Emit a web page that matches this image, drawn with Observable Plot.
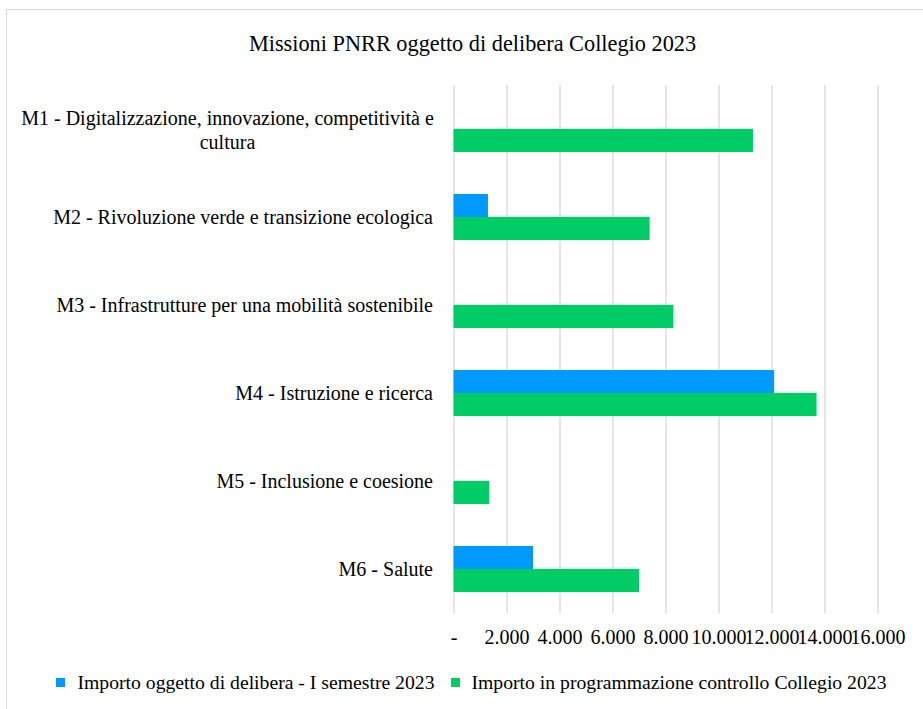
<!DOCTYPE html>
<html>
<head>
<meta charset="utf-8">
<script src="https://cdn.jsdelivr.net/npm/d3@7"></script>
<script src="https://cdn.jsdelivr.net/npm/@observablehq/plot@0.6"></script>
<style>
  html, body { margin: 0; padding: 0; background: #fff; }
  body { position: relative; width: 923px; height: 709px; overflow: hidden; font-family: "Liberation Serif", "Times New Roman", serif; color: #000; }
  #frame { position: absolute; left: 6px; top: 9px; width: 940px; height: 720px; border: 1.5px solid #d9d9d9; box-sizing: border-box; }
  #title { position: absolute; left: 7px; width: 931px; top: 30px; height: 28px; line-height: 28px; text-align: center; font-size: 22.3px; }
  #chart { position: absolute; left: 0; top: 0; }
  #legend { position: absolute; left: 7px; width: 929px; top: 670px; height: 24px; display: flex; justify-content: center; align-items: center; font-size: 19.7px; white-space: nowrap; }
  .sw { display: inline-block; width: 9px; height: 9px; margin-right: 12px; }
  .item { display: inline-flex; align-items: center; margin: 0 8px; }
</style>
</head>
<body>
<div id="frame"></div>
<div id="title"></div>
<div id="chart"></div>
<div id="legend"></div>
<script>
const titleText = "Missioni PNRR oggetto di delibera Collegio 2023";
const categories = [
  "M1 - Digitalizzazione, innovazione, competitività e\ncultura",
  "M2 - Rivoluzione verde e transizione ecologica",
  "M3 - Infrastrutture per una mobilità sostenibile",
  "M4 - Istruzione e ricerca",
  "M5 - Inclusione e coesione",
  "M6 - Salute"
];
const seriesNames = [
  "Importo oggetto di delibera - I semestre 2023",
  "Importo in programmazione controllo Collegio 2023"
];
const seriesColors = ["#0099ff", "#00cc66"];
const deliberaValues = [0, 1300, 0, 12100, 0, 3000];
const programmazioneValues = [11300, 7400, 8300, 13700, 1350, 7000];
const xTicks = [0, 2000, 4000, 6000, 8000, 10000, 12000, 14000, 16000];

document.getElementById("title").textContent = titleText;

const deliberaData = categories.map((c, i) => ({cat: c, value: deliberaValues[i]}));
const progData = categories.map((c, i) => ({cat: c, value: programmazioneValues[i]}));

const it = d3.formatLocale({decimal: ",", thousands: ".", grouping: [3], currency: ["€", ""]});
const fmt = it.format(",");

const W = 923, H = 650, mTop = 85, mBottom = 37, mLeft = 453.5, mRight = 45.5;
const padInner = 0.48, padOuter = 0.24;
const step = (H - mTop - mBottom) / (categories.length - padInner + 2 * padOuter);
const bw = step * (1 - padInner);

const multi = categories.filter(c => c.includes("\n"));

const chart = Plot.plot({
  width: W,
  height: H,
  marginTop: mTop,
  marginBottom: mBottom,
  marginLeft: mLeft,
  marginRight: mRight,
  style: {fontFamily: "'Liberation Serif', 'Times New Roman', serif", fontSize: "20px", color: "#000", background: "transparent"},
  x: {domain: [0, 16000], ticks: xTicks, tickFormat: d => d === 0 ? "-" : fmt(d), label: null},
  y: {domain: categories, type: "band", paddingInner: padInner, paddingOuter: padOuter, label: null},
  marks: [
    Plot.gridX(xTicks, {stroke: "#d9d9d9", strokeOpacity: 1, strokeWidth: 1.3}),
    Plot.axisX({ticks: xTicks, tickSize: 0, tickPadding: 16, tickFormat: d => d === 0 ? "-" : fmt(d), label: null, fill: "#000"}),
    Plot.axisY({tickSize: 0, tickPadding: 21, label: null, tickFormat: d => d.includes("\n") ? "" : d, fill: "#000"}),
    Plot.text(multi, {y: d => d, frameAnchor: "left", dx: -226.5, textAnchor: "middle", lineHeight: 1.16, text: d => d, fill: "#000", fontSize: 20}),
    Plot.barX(deliberaData, {y: "cat", x: "value", fill: seriesColors[0], insetBottom: bw / 2}),
    Plot.barX(progData, {y: "cat", x: "value", fill: seriesColors[1], insetTop: bw / 2})
  ]
});
document.getElementById("chart").appendChild(chart);

const legend = document.getElementById("legend");
seriesNames.forEach((name, i) => {
  const item = document.createElement("span");
  item.className = "item";
  const sw = document.createElement("span");
  sw.className = "sw";
  sw.style.background = seriesColors[i];
  const t = document.createElement("span");
  t.textContent = name;
  item.appendChild(sw);
  item.appendChild(t);
  legend.appendChild(item);
});
</script>
</body>
</html>
